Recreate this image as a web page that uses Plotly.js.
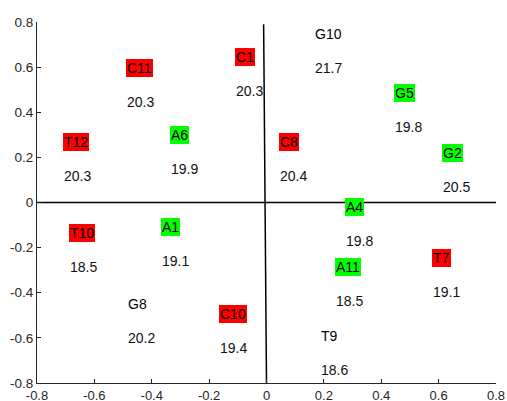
<!DOCTYPE html>
<html>
<head>
<meta charset="utf-8">
<script src="https://cdn.plot.ly/plotly-3.0.1.min.js"></script>
<style>html,body{margin:0;padding:0;background:#fff;}#chart{width:507px;height:401px;}</style>
</head>
<body>
<div id="chart"></div>
<script>
// Sample names, positions (label anchor) and values
const names  = ['C11','C1','T12','A6','G10','G5','C8','G2','T10','A1','G8','C10','A4','A11','T7','T9'];
const xPos   = [-0.49,-0.11,-0.71,-0.335,0.165,0.445,0.044,0.612,-0.69,-0.367,-0.487,-0.165,0.275,0.239,0.577,0.186];
const yPos   = [0.596,0.645,0.270,0.299,0.749,0.486,0.267,0.2185,-0.133,-0.109,-0.452,-0.495,-0.022,-0.285,-0.247,-0.591];
const values = ['20.3','20.3','20.3','19.9','21.7','19.8','20.4','20.5','18.5','19.1','20.2','19.4','19.8','18.5','19.1','18.6'];
const groups = ['red','red','red','green','none','green','red','green','red','green','none','red','green','green','red','none'];

// Cross lines (quadrant dividers)
const hLineX = [-0.8, 0.8];
const hLineY = [0, 0];
const vLineX = [-0.01, 0];
const vLineY = [0.79, -0.8];

// Tick labels
const tickVals = [-0.8,-0.6,-0.4,-0.2,0,0.2,0.4,0.6,0.8];
const tickText = ['-0.8','-0.6','-0.4','-0.2','0','0.2','0.4','0.6','0.8'];

const bg = {red:'#ff0000', green:'#00ff00', none:'rgba(0,0,0,0)'};
const fontFam = 'Liberation Sans, Arial, sans-serif';

const traces = [
  {x:hLineX, y:hLineY, mode:'lines', line:{color:'#000', width:1.5}, hoverinfo:'skip', showlegend:false},
  {x:vLineX, y:vLineY, mode:'lines', line:{color:'#000', width:1.5}, hoverinfo:'skip', showlegend:false}
];

const annotations = [];
names.forEach((n,i)=>{
  annotations.push({x:xPos[i], y:yPos[i], xref:'x', yref:'y', text:n, showarrow:false,
    xanchor:'left', yanchor:'middle', bgcolor:bg[groups[i]], borderpad:1, borderwidth:0,
    font:{family:fontFam, size:14, color:'#000'}});
  annotations.push({x:xPos[i], y:yPos[i], xref:'x', yref:'y', yshift:-34, text:values[i], showarrow:false,
    xanchor:'left', yanchor:'middle', borderpad:1, borderwidth:0,
    font:{family:fontFam, size:14, color:'#111'}});
});

const axisCommon = {
  range:[-0.8,0.8], tickvals:tickVals, ticktext:tickText, ticks:'inside', ticklen:4, tickwidth:1,
  tickcolor:'#262626', showline:true, linecolor:'#262626', linewidth:1, showgrid:false, zeroline:false,
  tickfont:{family:fontFam, size:13.5, color:'#262626'}, fixedrange:true
};

const layout = {
  width:507, height:401,
  margin:{l:37, r:11, t:22, b:18, pad:0},
  paper_bgcolor:'#fff', plot_bgcolor:'#fff',
  xaxis:Object.assign({}, axisCommon, {ticklabelstandoff:0, tickfont:{family:fontFam, size:13, color:'#262626'}}),
  yaxis:Object.assign({}, axisCommon),
  annotations:annotations,
  showlegend:false
};

Plotly.newPlot('chart', traces, layout, {displayModeBar:false, staticPlot:true});
</script>
</body>
</html>
